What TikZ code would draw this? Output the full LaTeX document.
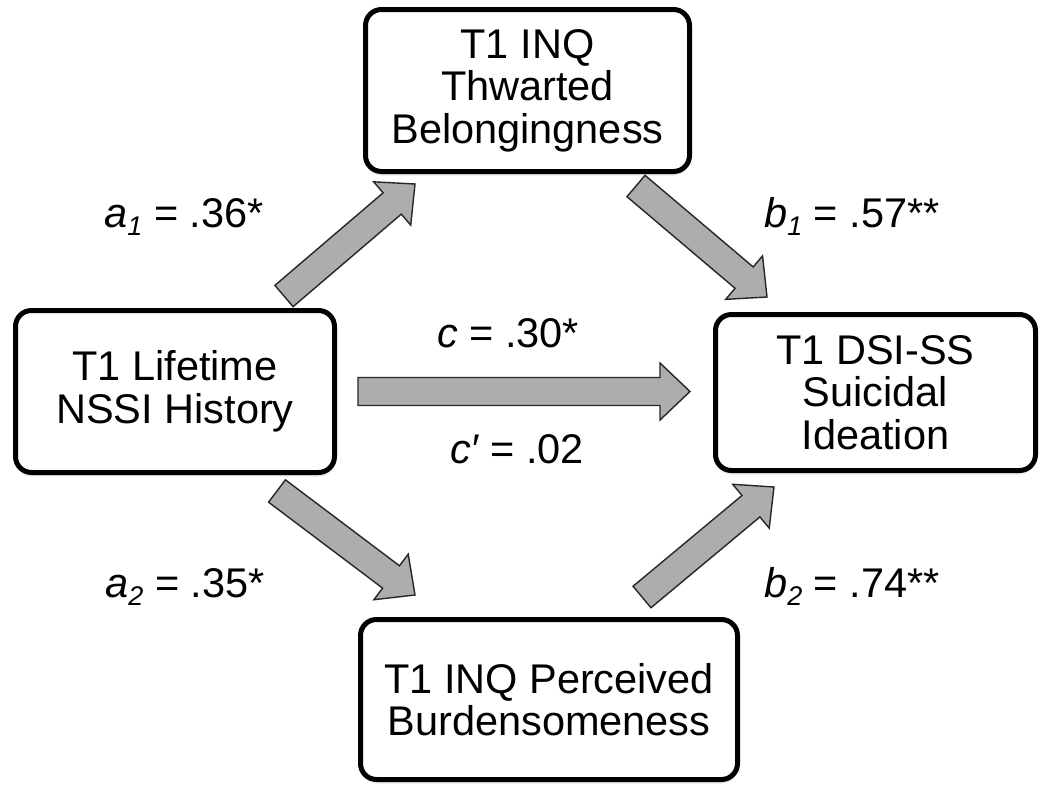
\documentclass[tikz,border=0pt]{standalone}
\usepackage{fontspec}
\setmainfont{Liberation Sans}
\usetikzlibrary{calc,shadows}
\definecolor{arrowfill}{HTML}{ADADAD}
\definecolor{arrowline}{HTML}{262626}
\newcommand\subidx[1]{\raisebox{-0.2em}{\fontsize{27}{27}\selectfont\itshape #1}}
\tikzset{
  varbox/.style={draw=black, line width=5pt, rounded corners=16pt, fill=white,
    align=center, inner sep=0pt,
    font=\fontsize{41.5}{42.5}\selectfont,
    drop shadow={opacity=0.16, shadow xshift=0pt, shadow yshift=-4pt}},
  coef/.style={anchor=base, inner sep=0pt, font=\fontsize{41.5}{42}\selectfont},
  blockarrow/.style={draw=arrowline, fill=arrowfill, line width=1.4pt, line join=miter,
    to path={
      ($(\tikztostart)!14pt!90:(\tikztotarget)$)
      -- ($(\tikztotarget)!30pt!(\tikztostart)!14pt!90:(\tikztotarget)$)
      -- ($(\tikztotarget)!30pt!(\tikztostart)!28.5pt!90:(\tikztotarget)$)
      -- (\tikztotarget)
      -- ($(\tikztotarget)!30pt!(\tikztostart)!28.5pt!-90:(\tikztotarget)$)
      -- ($(\tikztotarget)!30pt!(\tikztostart)!14pt!-90:(\tikztotarget)$)
      -- ($(\tikztostart)!14pt!-90:(\tikztotarget)$)
      -- cycle}}
}
\begin{document}
\begin{tikzpicture}[x=1pt,y=-1pt]
\useasboundingbox[fill=white] (0,0) rectangle (1050,798);

% boxes
\node[varbox, minimum width=324pt, minimum height=162pt] (tb) at (527.5,90.5)
  {T1 INQ\\Thwarted\\Belongingness};
\node[varbox, minimum width=319pt, minimum height=162pt] (lb) at (175,391.5)
  {T1 Lifetime\\NSSI History};
\node[varbox, minimum width=320pt, minimum height=156pt] (rb) at (875.5,392.5)
  {T1 DSI-SS\\Suicidal\\Ideation};
\node[varbox, minimum width=377pt, minimum height=160pt] (bb) at (549,699.5)
  {T1 INQ Perceived\\Burdensomeness};

% arrow end points
\coordinate (a1s) at (284,296);
\coordinate (a1t) at (415,184);
\coordinate (b1s) at (636,186);
\coordinate (b1t) at (767,297);
\coordinate (a2s) at (277,491);
\coordinate (a2t) at (415,595);
\coordinate (b2s) at (642,597);
\coordinate (b2t) at (774,487);
\coordinate (cs) at (358,391.5);
\coordinate (ct) at (690,391.5);

\draw[blockarrow] (a1s) to (a1t);
\draw[blockarrow] (b1s) to (b1t);
\draw[blockarrow] (a2s) to (a2t);
\draw[blockarrow] (b2s) to (b2t);
\draw[blockarrow] (cs) to (ct);

% coefficients
\node[coef] (la1) at (184,227) {{\itshape a}\subidx{1} = .36*};
\node[coef] (lb1) at (852,227) {{\itshape b}\subidx{1} = .57**};
\node[coef] (lc) at (508,347) {{\itshape c} = .30*};
\node[coef] (lcp) at (517,463) {{\itshape c\char"2032} = .02};
\node[coef] (la2) at (185,597) {{\itshape a}\subidx{2} = .35*};
\node[coef] (lb2) at (852,597) {{\itshape b}\subidx{2} = .74**};
\end{tikzpicture}
\end{document}
